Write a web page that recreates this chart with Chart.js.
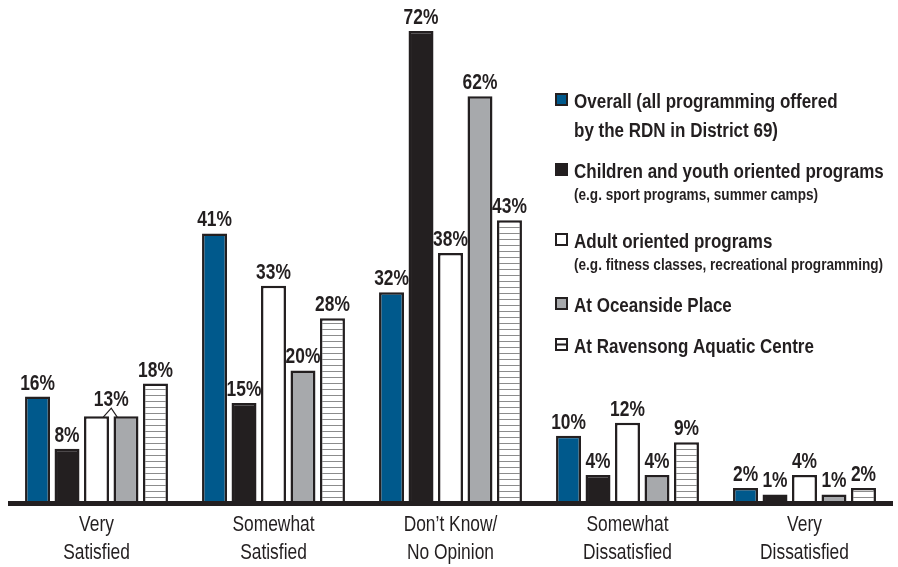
<!DOCTYPE html>
<html><head><meta charset="utf-8">
<script src="https://cdn.jsdelivr.net/npm/chart.js@4.4.1/dist/chart.umd.min.js"></script>
<style>html,body{margin:0;padding:0;background:#fff}#wrap{width:898px;height:567px}</style>
</head><body><div id="wrap"><canvas id="c" width="898" height="567"></canvas></div>
<script>
// ---- data ----
const categories = [["Very","Satisfied"],["Somewhat","Satisfied"],["Don\u2019t Know/","No Opinion"],["Somewhat","Dissatisfied"],["Very","Dissatisfied"]];
const overall   = [16, 41, 32, 10, 2];
const children  = [8, 15, 72, 4, 1];
const adult     = [13, 33, 38, 12, 4];
const oceanside = [13, 20, 62, 4, 1];
const ravensong = [18, 28, 43, 9, 2];
const legendMain = [["Overall (all programming offered","by the RDN in District 69)"],["Children and youth oriented programs"],["Adult oriented programs"],["At Oceanside Place"],["At Ravensong Aquatic Centre"]];
const legendSub  = [null,"(e.g. sport programs, summer camps)","(e.g. fitness classes, recreational programming)",null,null];

// ---- styles ----
const INK = '#231f20';
const FONT = '"Liberation Sans", Arial, sans-serif';
const legendTops = [93, 163, 233, 297, 338];
const legendX = 555;

const canvas = document.getElementById('c');
const ctx0 = canvas.getContext('2d');
function makeStripes(){
  const c = document.createElement('canvas'); c.width = 8; c.height = 6;
  const g = c.getContext('2d');
  g.fillStyle = '#ffffff'; g.fillRect(0,0,8,6);
  g.fillStyle = '#8c8c8c'; g.fillRect(0,5,8,1);
  return ctx0.createPattern(c,'repeat');
}
const stripePattern = makeStripes();
const fills = ['#00598c', INK, '#ffffff', '#a7a9ac', stripePattern];
const seriesValues = [overall, children, adult, oceanside, ravensong];

function txt(ctx, s, x, y, font, sx, align){
  ctx.save(); ctx.font = font; ctx.translate(x, y); ctx.scale(sx, 1);
  ctx.textAlign = align; ctx.textBaseline = 'alphabetic'; ctx.fillStyle = INK;
  ctx.fillText(s, 0, 0); ctx.restore();
}

const decor = {
  id: 'decor',
  afterDatasetsDraw(chart){
    const ctx = chart.ctx, a = chart.chartArea;
    // axis line
    ctx.save(); ctx.fillStyle = INK; ctx.fillRect(a.left, a.bottom, a.right - a.left, 5); ctx.restore();
    // category labels
    const xs = chart.scales.x;
    categories.forEach((c, i) => {
      const x = xs.getPixelForValue(i);
      c.forEach((line, j) => txt(ctx, line, x, a.bottom + 30 + j*28, '22px ' + FONT, 0.79, 'center'));
    });
    // value labels
    const metas = chart.data.datasets.map((d, i) => chart.getDatasetMeta(i));
    const n = metas.length;
    categories.forEach((c, ci) => {
      let s = 0;
      while (s < n){
        const v = chart.data.datasets[s].data[ci];
        const bar = metas[s].data[ci];
        if (s + 1 < n && chart.data.datasets[s+1].data[ci] === v){
          const bar2 = metas[s+1].data[ci];
          const top = Math.min(bar.y, bar2.y);
          const mx = (bar.x + bar.width/2 + bar2.x - bar2.width/2)/2;
          ctx.save(); ctx.strokeStyle = INK; ctx.lineWidth = 1.2;
          ctx.beginPath(); ctx.moveTo(mx - 8, top + 1); ctx.lineTo(mx, top - 8); ctx.lineTo(mx + 6, top + 1); ctx.stroke(); ctx.restore();
          txt(ctx, v + '%', mx, top - 10, 'bold 22px ' + FONT, 0.79, 'center');
          s += 2;
        } else {
          txt(ctx, v + '%', bar.x, bar.y - 7, 'bold 22px ' + FONT, 0.79, 'center');
          s += 1;
        }
      }
    });
    // legend
    legendMain.forEach((lines, i) => {
      const t = legendTops[i];
      ctx.save();
      ctx.fillStyle = (i === 4) ? '#ffffff' : fills[i];
      ctx.fillRect(legendX, t, 13, 13);
      ctx.strokeStyle = INK; ctx.lineWidth = 2;
      ctx.strokeRect(legendX + 1, t + 1, 11, 11);
      if (i === 4){ ctx.fillStyle = INK; ctx.fillRect(legendX + 1, t + 5.5, 11, 2); }
      ctx.restore();
      let y = t + 15;
      lines.forEach((l, j) => { txt(ctx, l, legendX + 19, y + j*29, 'bold 20px ' + FONT, 0.85, 'left'); });
      if (legendSub[i]) txt(ctx, legendSub[i], legendX + 19, y + 22, 'bold 16px ' + FONT, 0.85, 'left');
    });
  }
};

new Chart(canvas, {
  type: 'bar',
  data: {
    labels: categories.map(c => c.join(' ')),
    datasets: seriesValues.map((vals, i) => ({
      label: legendMain[i].join(' '),
      data: vals,
      backgroundColor: fills[i],
      borderColor: INK,
      borderWidth: 2.5,
      categoryPercentage: 0.833,
      barPercentage: 0.847
    }))
  },
  options: {
    responsive: false,
    animation: false,
    layout: { padding: { left: 8, right: 5, top: 5, bottom: 66 } },
    plugins: { legend: { display: false }, tooltip: { enabled: false } },
    scales: {
      x: { display: false },
      y: { display: false, min: 0, max: 76 }
    }
  },
  plugins: [decor]
});
</script>
</body></html>
